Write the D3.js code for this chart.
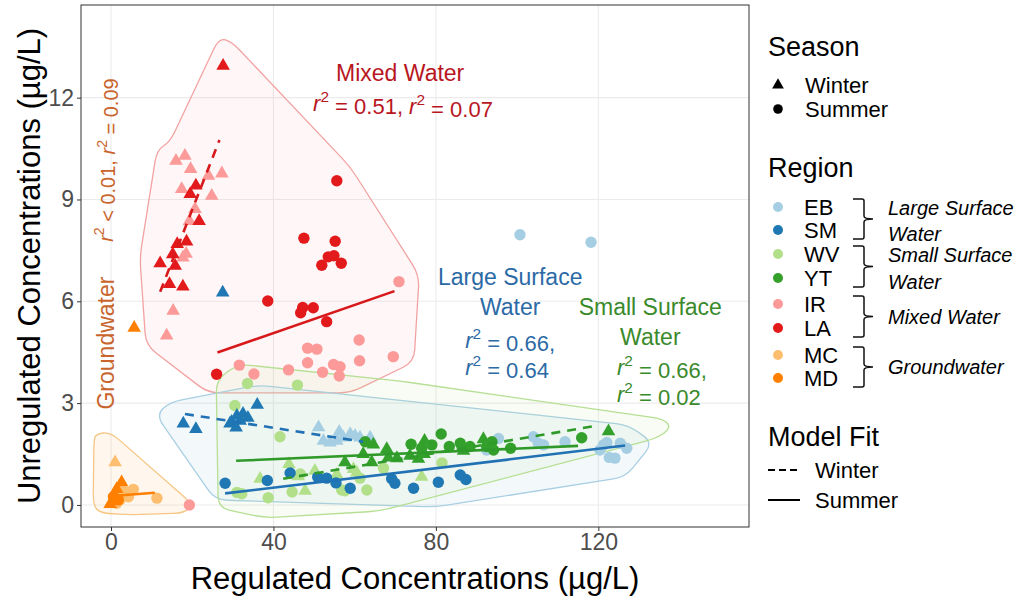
<!DOCTYPE html>
<html>
<head>
<meta charset="utf-8">
<script src="https://cdn.jsdelivr.net/npm/d3@7"></script>
<style>
  html, body { margin: 0; padding: 0; background: #fff; }
  svg { display: block; font-family: "Liberation Sans", Arial, sans-serif; }
</style>
</head>
<body>
<svg id="chart" width="1034" height="602"></svg>
<script>
// ---- data (regulated vs unregulated concentrations, µg/L) ----
const regions = ["EB", "SM", "WV", "YT", "IR", "LA", "MC", "MD"];
const regionGroups = ["Large Surface Water", "Large Surface Water", "Small Surface Water", "Small Surface Water",
                      "Mixed Water", "Mixed Water", "Groundwater", "Groundwater"];
const xTicks = [0, 40, 80, 120];
const yTicks = [0, 3, 6, 9, 12];

// [x, y] pairs, one array per region and season
const EB_winter = [[51.1,2.31],[52.3,1.91],[53.9,1.86],[55.6,1.91],[57.2,2.01],[58.9,2.11],[60.1,2.06],[61.3,2.01],[63.8,2.01],[56.2,2.18]];
const EB_summer = [[100.7,7.96],[118.2,7.74],[95.4,1.96],[104.0,2.01],[105.2,1.82],[106.5,1.77],[111.8,1.86],[92.5,1.62],
                   [120.4,1.62],[121.3,1.77],[122.7,1.40],[124.1,1.38],[122.1,1.84],[125.4,1.82],[127.0,1.67]];
const SM_winter = [[17.8,2.42],[20.9,2.26],[36.0,2.97],[29.7,2.47],[31.0,2.65],[32.5,2.71],[33.7,2.59],[30.8,2.30],
                   [29.3,2.42],[31.8,2.50],[27.5,6.28]];
const SM_summer = [[28.1,0.64],[38.5,0.72],[44.1,0.94],[50.9,0.82],[53.1,0.79],[55.4,0.65],[58.9,0.49],[69.1,0.77],
                   [69.9,0.64],[74.5,0.49],[80.6,0.67],[86.0,0.88],[87.4,0.75]];
const WV_winter = [[43.8,1.23],[36.7,0.79],[46.1,0.87],[50.2,1.03],[47.8,0.44],[55.6,0.92],[59.7,1.08],[60.5,0.98],[76.5,0.85]];
const WV_summer = [[30.5,2.93],[41.6,2.01],[31.0,0.37],[32.2,0.33],[38.7,0.21],[44.6,0.38],[46.6,0.91],[56.8,0.44],
                   [57.6,0.42],[63.0,0.44],[67.1,1.08],[61.3,0.79],[81.5,1.24],[33.6,3.58],[45.9,3.53]];
const YT_winter = [[62.1,1.52],[64.6,1.80],[57.6,1.28],[64.2,1.28],[67.9,1.67],[68.3,1.42],[70.4,1.40],[73.6,1.47],
                   [75.7,1.38],[77.2,1.91],[77.1,1.52],[86.8,1.62],[91.7,1.96],[122.5,2.19]];
const YT_summer = [[62.6,1.86],[73.9,1.79],[81.3,2.09],[79.0,1.77],[83.3,1.72],[86.0,1.82],[88.4,1.72],[92.5,1.72],
                   [94.2,1.62],[93.8,1.86],[98.4,1.67],[115.9,1.98],[76.5,1.67]];
const IR_winter = [[16.0,10.16],[18.2,10.31],[19.6,9.92],[24.0,9.72],[27.3,9.79],[17.4,9.33],[24.8,9.13],[20.7,8.74],
                   [19.3,8.39],[17.7,7.31],[18.5,7.42],[15.3,5.74],[13.7,5.01]];
const IR_summer = [[70.9,6.58],[61.1,4.86],[48.4,4.62],[50.7,4.59],[69.5,4.37],[61.2,4.25],[48.4,4.19],[54.8,4.14],
                   [56.4,4.07],[52.1,3.91],[56.2,3.80],[43.7,3.98],[35.2,3.86],[31.6,4.12],[19.3,0.0]];
const LA_winter = [[27.6,12.96],[20.9,9.43],[19.5,9.18],[16.3,7.71],[18.6,7.78],[15.2,7.41],[12.1,7.14],[15.8,7.07],
                   [14.4,6.53],[17.7,6.46],[21.7,8.39]];
const LA_summer = [[55.6,9.55],[47.5,7.86],[55.2,7.77],[53.5,7.31],[54.9,7.34],[51.9,7.06],[56.7,7.12],[38.6,6.01],
                   [47.2,5.82],[46.7,5.66],[49.8,5.81],[53.1,5.40],[26.0,3.85]];
const MC_winter = [[1.0,1.28]];
const MC_summer = [[1.8,0.44],[3.4,0.39],[5.5,0.46],[11.3,0.20],[2.2,0.15],[4.3,0.24],[1.4,0.05]];
const MD_winter = [[2.6,0.69],[1.4,0.49],[-0.2,0.05],[1.0,0.15],[5.7,5.24]];
const MD_summer = [[0.6,0.24],[1.8,0.15]];

// fitted lines per water type: [x1, y1, x2, y2]
const fitMixed_winter  = [12.1, 6.28, 26.7, 10.75];
const fitMixed_summer  = [26.2, 4.49, 69.8, 6.30];
const fitLarge_winter  = [18.2, 2.68, 62.1, 1.86];
const fitLarge_summer  = [28.1, 0.34, 126.6, 1.75];
const fitSmall_winter  = [42.4, 0.77, 118.4, 2.31];
const fitSmall_summer  = [30.8, 1.30, 115.0, 1.74];
const fitGround_winter = [0.0, 0.22, 2.6, 0.52];
const fitGround_summer = [1.0, 0.27, 10.8, 0.36];

// outline of each water-type cluster, [x, y] vertices
const hullMixed  = [[26.6,13.76],[29.8,13.64],[58.9,9.96],[75.9,6.77],[74.6,4.21],[58.9,3.30],[23.9,3.30],[8.6,4.71],[7.1,7.30],[11.3,10.46],[14.5,10.69]];
const hullLarge  = [[11.1,2.65],[14.5,3.03],[36.2,3.53],[127.3,2.36],[133.5,1.83],[126.6,0.82],[79.8,-0.06],[25.6,0.15]];
const hullSmall  = [[31.3,4.15],[71.2,3.65],[136.2,2.53],[137.9,2.27],[134.5,1.97],[66.3,-0.18],[37.9,-0.38],[26.4,-0.09],[25.9,3.68]];
const hullGround = [[-3.7,2.09],[-0.2,2.15],[20.0,0.03],[18.2,-0.24],[4.7,-0.29],[-2.7,-0.24],[-4.4,0.0],[-4.2,1.91]];

// ---- styling ----
const regionColors = {EB:"#a6cee3", SM:"#1f78b4", WV:"#b2df8a", YT:"#33a02c", IR:"#fb9a99", LA:"#e31a1c", MC:"#fdbf6f", MD:"#ff7f00"};
const seriesList = [
  ["MC","S",MC_summer],["MD","S",MD_summer],["MC","W",MC_winter],["MD","W",MD_winter],
  ["IR","S",IR_summer],["LA","S",LA_summer],["IR","W",IR_winter],["LA","W",LA_winter],
  ["WV","S",WV_summer],["WV","W",WV_winter],["EB","S",EB_summer],["EB","W",EB_winter],
  ["SM","W",SM_winter],["SM","S",SM_summer],["YT","S",YT_summer],["YT","W",YT_winter]
];

const svg = d3.select("#chart");
const panel = {left: 81, right: 749, top: 5, bottom: 527};

const x = d3.scaleLinear().domain([-7.39, 157.1]).range([panel.left, panel.right]);
const y = d3.scaleLinear().domain([-0.65, 14.73]).range([panel.bottom, panel.top]);

// grid
const grid = svg.append("g");
grid.selectAll("line.vx").data(xTicks).join("line")
  .attr("x1", d => x(d)).attr("x2", d => x(d)).attr("y1", panel.top).attr("y2", panel.bottom)
  .attr("stroke", "#ebebeb").attr("stroke-width", 1.1);
grid.selectAll("line.hy").data(yTicks).join("line")
  .attr("y1", d => y(d)).attr("y2", d => y(d)).attr("x1", panel.left).attr("x2", panel.right)
  .attr("stroke", "#ebebeb").attr("stroke-width", 1.1);

// rounded polygon path
function roundedPath(pts, r) {
  const n = pts.length;
  let d = "";
  for (let i = 0; i < n; i++) {
    const v = pts[i], p0 = pts[(i - 1 + n) % n], p2 = pts[(i + 1) % n];
    const l0 = Math.hypot(p0[0]-v[0], p0[1]-v[1]), l2 = Math.hypot(p2[0]-v[0], p2[1]-v[1]);
    const t0 = Math.min(r / l0, 0.5), t2 = Math.min(r / l2, 0.5);
    const a = [v[0] + (p0[0]-v[0]) * t0, v[1] + (p0[1]-v[1]) * t0];
    const b = [v[0] + (p2[0]-v[0]) * t2, v[1] + (p2[1]-v[1]) * t2];
    d += (i === 0 ? "M" : "L") + a[0] + "," + a[1] + "Q" + v[0] + "," + v[1] + " " + b[0] + "," + b[1];
  }
  return d + "Z";
}

const hulls = [
  [hullMixed,  "rgba(251,154,153,0.08)", "#f2a2a2"],
  [hullLarge,  "rgba(166,206,227,0.13)", "#a9cfe4"],
  [hullSmall,  "rgba(178,223,138,0.09)", "#b6df94"],
  [hullGround, "rgba(253,191,111,0.12)", "#f6c684"]
];
svg.append("g").selectAll("path").data(hulls).join("path")
  .attr("d", d => roundedPath(d[0].map(p => [x(p[0]), y(p[1])]), 12))
  .attr("fill", d => d[1]).attr("stroke", d => d[2]).attr("stroke-width", 1.3);

// points
const tri = d3.symbol().type(d3.symbolTriangle).size(80);
const pts = svg.append("g");
seriesList.forEach(([reg, season, arr]) => {
  const g = pts.append("g").attr("fill", regionColors[reg]);
  if (season === "S") {
    g.selectAll("circle").data(arr).join("circle")
      .attr("cx", d => x(d[0])).attr("cy", d => y(d[1])).attr("r", 5.7);
  } else {
    g.selectAll("path").data(arr).join("path")
      .attr("d", tri).attr("transform", d => `translate(${x(d[0])},${y(d[1]) + 0.8})`);
  }
});

// model fits
const fits = [
  [fitMixed_winter, "#d7191c", true], [fitMixed_summer, "#d7191c", false],
  [fitLarge_winter, "#2171b5", true], [fitLarge_summer, "#2171b5", false],
  [fitSmall_winter, "#2f9a2a", true], [fitSmall_summer, "#2f9a2a", false],
  [fitGround_winter, "#ff7f00", true], [fitGround_summer, "#ff7f00", false]
];
svg.append("g").selectAll("line").data(fits).join("line")
  .attr("x1", d => x(d[0][0])).attr("y1", d => y(d[0][1]))
  .attr("x2", d => x(d[0][2])).attr("y2", d => y(d[0][3]))
  .attr("stroke", d => d[1]).attr("stroke-width", 2.6)
  .attr("stroke-dasharray", d => d[2] ? "9,7" : null);

// panel border
svg.append("rect").attr("x", panel.left).attr("y", panel.top)
  .attr("width", panel.right - panel.left).attr("height", panel.bottom - panel.top)
  .attr("fill", "none").attr("stroke", "#333").attr("stroke-width", 1);

// axes
const xAxis = d3.axisBottom(x).tickValues(xTicks).tickSize(4).tickPadding(3);
const yAxis = d3.axisLeft(y).tickValues(yTicks).tickSize(4).tickPadding(3);
const gx = svg.append("g").attr("transform", `translate(0,${panel.bottom})`).call(xAxis);
const gy = svg.append("g").attr("transform", `translate(${panel.left},0)`).call(yAxis);
[gx, gy].forEach(g => {
  g.select(".domain").remove();
  g.selectAll(".tick line").attr("stroke", "#333");
  g.selectAll(".tick text").attr("fill", "#4d4d4d").style("font-size", "23px")
    .style("font-family", "'Liberation Sans', Arial, sans-serif");
});

svg.append("text").attr("x", (panel.left + panel.right) / 2).attr("y", 589)
  .attr("text-anchor", "middle").style("font-size", "31px").attr("fill", "#000")
  .text("Regulated Concentrations (µg/L)");
svg.append("text").attr("transform", `translate(40,${(panel.top + panel.bottom) / 2}) rotate(-90)`)
  .attr("text-anchor", "middle").style("font-size", "31px").attr("fill", "#000")
  .text("Unregulated Concentrations (µg/L)");

// r² label helper: "r2" inserts an italic r with a raised 2
function richText(sel, parts) {
  let lift = false;
  parts.forEach(p => {
    if (p === "r2") {
      const r = sel.append("tspan").style("font-style", "italic").text("r");
      if (lift) { r.attr("dy", "0.45em"); }
      sel.append("tspan").attr("dy", "-0.45em").style("font-size", "0.7em").text("2");
      lift = true;
    } else {
      const t = sel.append("tspan").text(p);
      if (lift) { t.attr("dy", "0.45em"); lift = false; }
    }
  });
}

const ann = svg.append("g").attr("dominant-baseline", "central");
function label(xv, yv, txt, color, size, anchor) {
  const t = ann.append("text").attr("x", x(xv)).attr("y", y(yv))
    .attr("text-anchor", anchor || "middle").attr("fill", color).style("font-size", size + "px");
  if (Array.isArray(txt)) richText(t, txt); else t.text(txt);
  return t;
}
const cMixed = "#b8161e", cLarge = "#2c6aa6", cSmall = "#3a8a2c", cGround = "#c8642c";
label(71.2, 12.72, "Mixed Water", cMixed, 23);
label(71.9, 11.84, ["r2", " = 0.51, ", "r2", " = 0.07"], cMixed, 22);
label(98.3, 6.72, "Large Surface", cLarge, 23);
label(98.3, 5.83, "Water", cLarge, 23);
label(87.2, 4.86, ["r2", " = 0.66,"], cLarge, 22, "start");
label(87.2, 4.06, ["r2", " = 0.64"], cLarge, 22, "start");
label(132.8, 5.83, "Small Surface", cSmall, 23);
label(132.8, 4.95, "Water", cSmall, 23);
label(124.6, 4.06, ["r2", " = 0.66,"], cSmall, 22, "start");
label(124.6, 3.27, ["r2", " = 0.02"], cSmall, 22, "start");

svg.append("text").attr("transform", `translate(${x(-1.3)},${y(4.77)}) rotate(-90)`)
  .attr("text-anchor", "middle").attr("dominant-baseline", "central")
  .attr("fill", cGround).style("font-size", "23px").text("Groundwater");
const gr = svg.append("text").attr("transform", `translate(${x(-1.3)},${y(10.16)}) rotate(-90)`)
  .attr("text-anchor", "middle").attr("dominant-baseline", "central")
  .attr("fill", cGround).style("font-size", "20px");
richText(gr, ["r2", " < 0.01, ", "r2", " = 0.09"]);

// ---- legend ----
const leg = svg.append("g").attr("dominant-baseline", "central");
const lx = 768;
leg.append("text").attr("x", lx).attr("y", 47).style("font-size", "27px").text("Season");
leg.append("path").attr("d", d3.symbol().type(d3.symbolTriangle).size(60))
  .attr("transform", "translate(778,85)").attr("fill", "#000");
leg.append("text").attr("x", 805).attr("y", 85).style("font-size", "22px").text("Winter");
leg.append("circle").attr("cx", 778).attr("cy", 109).attr("r", 4.8).attr("fill", "#000");
leg.append("text").attr("x", 805).attr("y", 109).style("font-size", "22px").text("Summer");

leg.append("text").attr("x", lx).attr("y", 168).style("font-size", "27px").text("Region");
const regionY = [207, 230, 254, 278, 304, 328, 355, 378];
leg.selectAll("circle.reg").data(regions).join("circle")
  .attr("cx", 778).attr("cy", (d, i) => regionY[i]).attr("r", 5)
  .attr("fill", d => regionColors[d]);
leg.selectAll("text.reg").data(regions).join("text")
  .attr("x", 804).attr("y", (d, i) => regionY[i]).style("font-size", "22px").text(d => d);

// braces joining region pairs to their water type
const braces = [[0, 1], [2, 3], [4, 5], [6, 7]];
const braceLabels = [["Large Surface", "Water"], ["Small Surface", "Water"], ["Mixed Water"], ["Groundwater"]];
braces.forEach(([a, b], k) => {
  const y0 = regionY[a] - 8, y1 = regionY[b] + 9, ym = (y0 + y1) / 2;
  const xa = 853, xb = 864, xn = 873;
  leg.append("path")
    .attr("d", `M${xa},${y0} L${xb - 2},${y0} Q${xb},${y0} ${xb},${y0 + 2} L${xb},${ym - 3} Q${xb},${ym} ${xn},${ym}` +
               ` Q${xb},${ym} ${xb},${ym + 3} L${xb},${y1 - 2} Q${xb},${y1} ${xb - 2},${y1} L${xa},${y1}`)
    .attr("fill", "none").attr("stroke", "#111").attr("stroke-width", 1.5);
  const lines = braceLabels[k];
  const ty = lines.length === 2 ? [regionY[a] + 1, regionY[b] + 4] : [ym];
  lines.forEach((t, j) => {
    leg.append("text").attr("x", 888).attr("y", ty[j]).style("font-size", "20px")
      .style("font-style", "italic").text(t);
  });
});

leg.append("text").attr("x", lx).attr("y", 437).style("font-size", "27px").text("Model Fit");
leg.append("line").attr("x1", 768).attr("x2", 800).attr("y1", 470).attr("y2", 470)
  .attr("stroke", "#000").attr("stroke-width", 2).attr("stroke-dasharray", "7,4");
leg.append("text").attr("x", 815).attr("y", 470).style("font-size", "22px").text("Winter");
leg.append("line").attr("x1", 768).attr("x2", 800).attr("y1", 500).attr("y2", 500)
  .attr("stroke", "#000").attr("stroke-width", 2);
leg.append("text").attr("x", 815).attr("y", 500).style("font-size", "22px").text("Summer");
</script>
</body>
</html>
